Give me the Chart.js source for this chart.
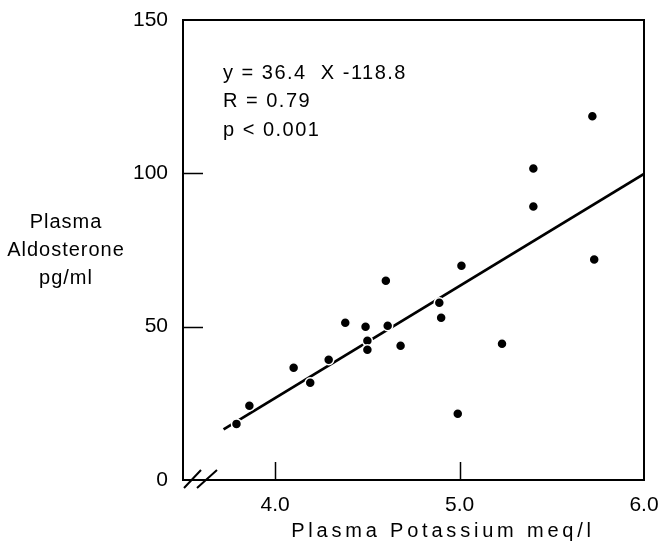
<!DOCTYPE html>
<html>
<head>
<meta charset="utf-8">
<script src="https://cdn.jsdelivr.net/npm/chart.js@4/dist/chart.umd.min.js"></script>
<style>
html, body { margin: 0; padding: 0; background: #fff; }
</style>
</head>
<body>
<canvas id="aldoChart" width="666" height="544"></canvas>
<script>
// values
const potassium   = [3.79, 3.86, 4.10, 4.19, 4.29, 4.38, 4.49, 4.50, 4.50, 4.61, 4.60, 4.68, 4.89, 4.90, 5.01, 4.99, 5.23, 5.40, 5.40, 5.72, 5.73];
const aldosterone = [18.3, 24.2, 36.6, 31.7, 39.2, 51.3, 50.0, 45.4, 42.5, 50.3, 65.0, 43.8, 57.8, 52.9, 69.9, 21.6, 44.4, 101.6, 89.2, 118.6, 71.9];

// regression line end points
const fitX = [3.72, 6.0];
const fitY = [16.5, 99.8];

const xTicks = [4.0, 5.0, 6.0];
const yTicks = [0, 50, 100, 150];
const xInnerTicks = [4.0, 5.0];
const yInnerTicks = [50, 100];

const statsText = ['y = 36.4  X -118.8', 'R = 0.79', 'p < 0.001'];
const yTitle = ['Plasma', 'Aldosterone', 'pg/ml'];
const xTitle = 'Plasma Potassium meq/l';

const FONT = "'Liberation Sans', Arial, Helvetica, sans-serif";

const paperFrame = {
    id: 'paperFrame',
    afterDraw(chart) {
        const ctx = chart.ctx;
        const a = chart.chartArea;
        const xs = chart.scales.x;
        const ys = chart.scales.y;
        ctx.save();
        ctx.strokeStyle = '#000';
        ctx.lineWidth = 2;
        ctx.strokeRect(a.left, a.top, a.right - a.left, a.bottom - a.top);

        // inward tick marks
        ctx.lineWidth = 1.5;
        ctx.beginPath();
        yInnerTicks.forEach(v => {
            const py = Math.round(ys.getPixelForValue(v)) + 0.5;
            ctx.moveTo(a.left, py);
            ctx.lineTo(a.left + 20, py);
        });
        xInnerTicks.forEach(v => {
            const px = Math.round(xs.getPixelForValue(v)) + 0.5;
            ctx.moveTo(px, a.bottom);
            ctx.lineTo(px, a.bottom - 18);
        });
        ctx.stroke();

        // axis break
        ctx.lineWidth = 2;
        ctx.beginPath();
        ctx.moveTo(a.left + 1, a.bottom + 8);
        ctx.lineTo(a.left + 18, a.bottom - 10);
        ctx.moveTo(a.left + 14, a.bottom + 8);
        ctx.lineTo(a.left + 34, a.bottom - 10);
        ctx.stroke();

        ctx.fillStyle = '#000';
        ctx.font = '20px ' + FONT;
        ctx.textBaseline = 'middle';

        // y title, three lines
        ctx.textAlign = 'center';
        ctx.letterSpacing = '1px';
        yTitle.forEach((t, i) => ctx.fillText(t, 66, 222 + i * 28));

        // stats box
        ctx.textAlign = 'left';
        ctx.letterSpacing = '1.5px';
        statsText.forEach((t, i) => ctx.fillText(t, 223, 73 + i * 28.5));

        // x title
        ctx.textAlign = 'center';
        ctx.letterSpacing = '3.8px';
        ctx.fillText(xTitle, 443, 531);
        ctx.restore();
    }
};

new Chart(document.getElementById('aldoChart'), {
    type: 'scatter',
    data: {
        datasets: [{
            data: potassium.map((k, i) => ({ x: k, y: aldosterone[i] })),
            pointRadius: 5,
            pointBackgroundColor: '#000',
            pointBorderColor: '#fff',
            pointBorderWidth: 1.5
        }, {
            type: 'line',
            data: fitX.map((k, i) => ({ x: k, y: fitY[i] })),
            borderColor: '#000',
            borderWidth: 2.8,
            pointRadius: 0,
            fill: false
        }]
    },
    options: {
        responsive: false,
        animation: false,
        events: [],
        layout: { padding: { top: 20, right: 22, left: 0, bottom: 0 } },
        plugins: { legend: { display: false }, tooltip: { enabled: false } },
        scales: {
            x: {
                type: 'linear',
                min: 3.5,
                max: 6.0,
                afterBuildTicks: s => { s.ticks = xTicks.map(v => ({ value: v })); },
                afterFit: s => { s.height = 64; s.paddingLeft = 0; s.paddingRight = 0; },
                grid: { display: false, drawTicks: false },
                border: { display: false },
                ticks: {
                    autoSkip: false,
                    maxRotation: 0,
                    padding: 13,
                    color: '#000',
                    font: { family: FONT, size: 21 },
                    callback: v => v.toFixed(1)
                }
            },
            y: {
                min: 0,
                max: 150,
                afterBuildTicks: s => { s.ticks = yTicks.map(v => ({ value: v })); },
                afterFit: s => { s.width = 183; s.paddingTop = 0; s.paddingBottom = 0; },
                grid: { display: false, drawTicks: false },
                border: { display: false },
                ticks: {
                    autoSkip: false,
                    padding: 15,
                    color: '#000',
                    font: { family: FONT, size: 21 }
                }
            }
        }
    },
    plugins: [paperFrame]
});
</script>
</body>
</html>
